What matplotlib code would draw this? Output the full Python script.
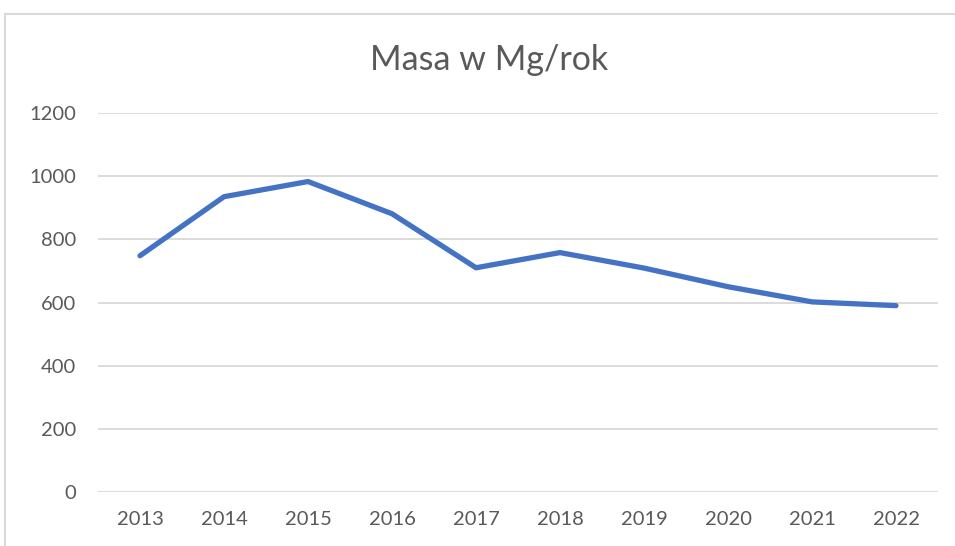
import matplotlib
matplotlib.use("Agg")
import matplotlib.pyplot as plt
from matplotlib.lines import Line2D

lata = ["2013", "2014", "2015", "2016", "2017", "2018", "2019", "2020", "2021", "2022"]
masa = [748, 935, 983, 881, 710, 758, 709, 650, 602, 590]
yticks = [0, 200, 400, 600, 800, 1000, 1200]

plt.rcParams['font.family'] = ['Lato', 'DejaVu Sans']

fig = plt.figure(figsize=(9.55, 5.46), dpi=100)
ax = fig.add_axes([98/955, 1-492/546, (938-98)/955, (492-113)/546])

x = list(range(len(lata)))
ax.plot(x, masa, color="#4472C4", linewidth=3.8, solid_capstyle="round", solid_joinstyle="round")

ax.set_xlim(-0.5, len(lata)-0.5)
ax.set_ylim(0, 1200)
ax.set_yticks(yticks)
ax.set_xticks(x)
ax.set_xticklabels(lata)
ax.grid(True, axis="y", color="#d9d9d9", linewidth=1.3)
ax.set_axisbelow(True)
for s in ["top", "right", "left", "bottom"]:
	ax.spines[s].set_visible(False)
ax.tick_params(axis="both", length=0, colors="#595959", labelsize=14.5)
ax.tick_params(axis="y", pad=16)
ax.tick_params(axis="x", pad=14)

fig.text(489/955, 1-60/546, "Masa w Mg/rok", ha="center", va="center", fontsize=24.5, color="#595959")

# ramka wykresu
fig.add_artist(Line2D([5/955, 5/955], [0, 1-14/546], color="#d9d9d9", linewidth=1.5))
fig.add_artist(Line2D([5/955, 1], [1-14/546, 1-14/546], color="#d9d9d9", linewidth=1.5))

plt.savefig("out.png", dpi=100)
